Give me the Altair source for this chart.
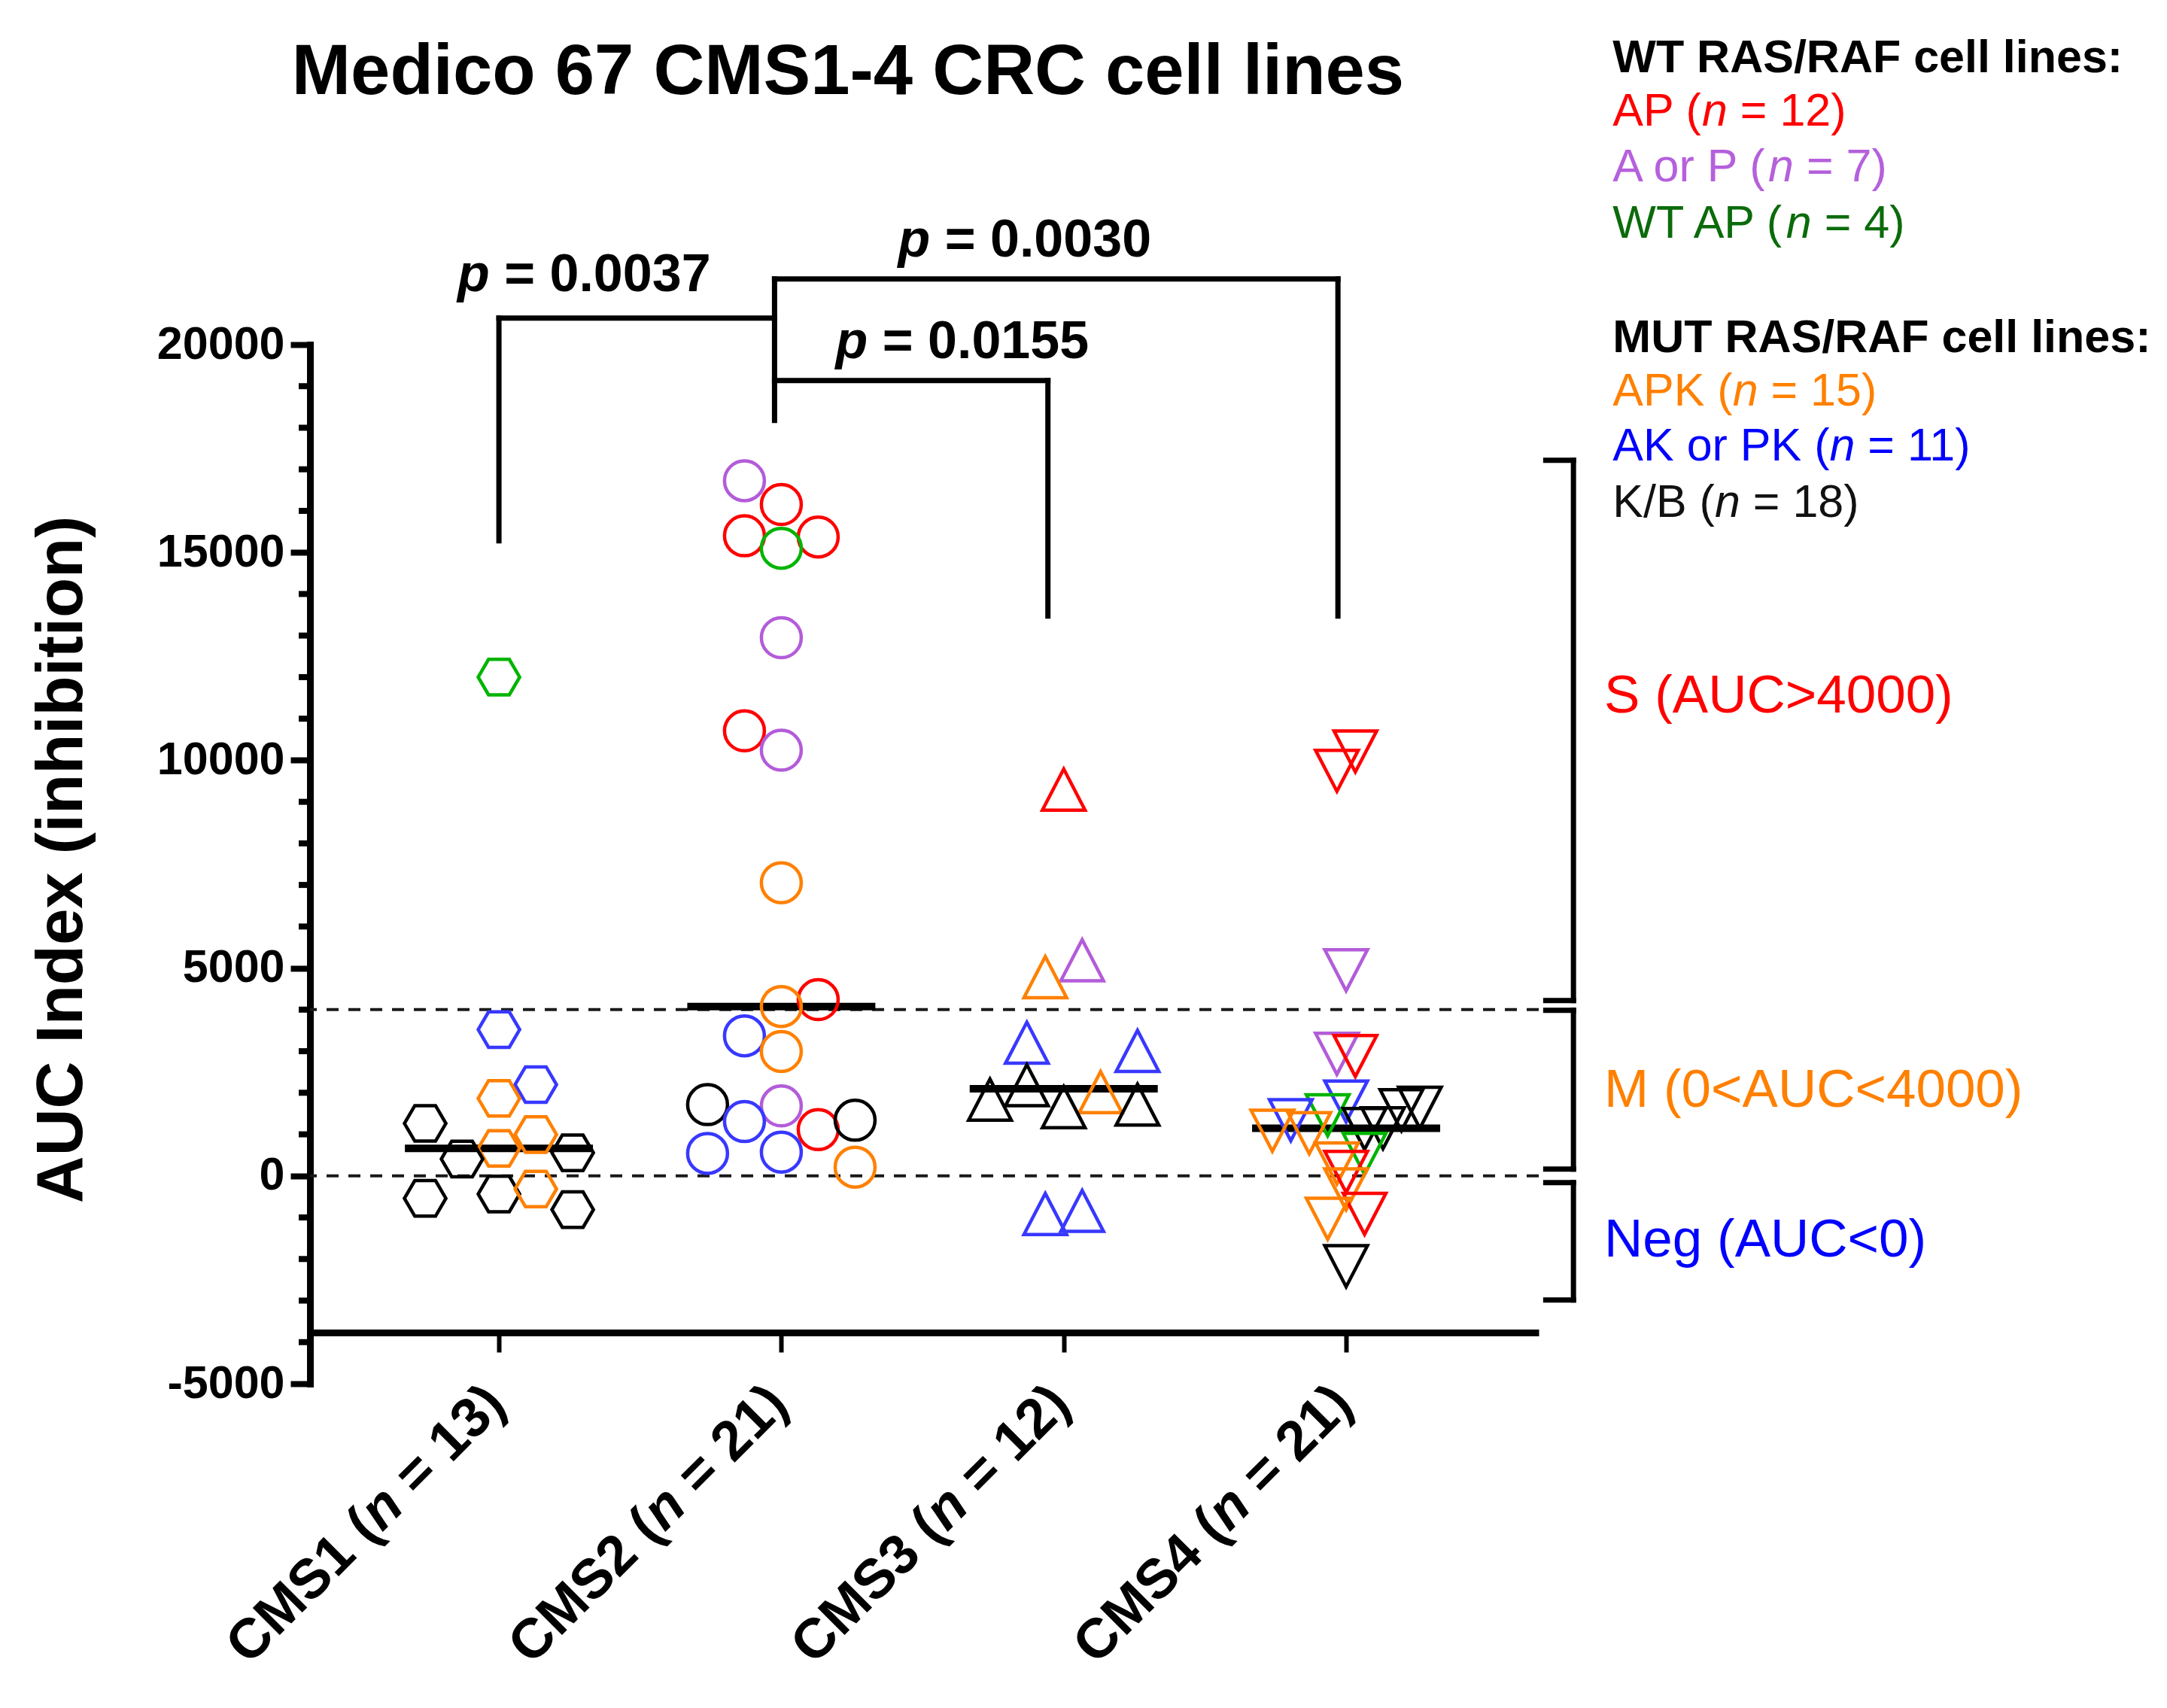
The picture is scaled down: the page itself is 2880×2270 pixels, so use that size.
import altair as alt
import pandas as pd

# ---------------- data ----------------
cms_names = ["CMS1", "CMS2", "CMS3", "CMS4"]
cms_counts = [13, 21, 12, 21]

group_names = ["AP", "A or P", "WT AP", "APK", "AK or PK", "K/B"]
group_counts = [12, 7, 4, 15, 11, 18]
marker_colors = ["#FF0000", "#B35CD9", "#00B400", "#FF8000", "#3838FF", "#000000"]
legend_colors = ["#FF0000", "#B560DC", "#0B6B0B", "#FF8000", "#0000FF", "#111111"]

cms1_values = [12000, 3520, 2196, 1865, 1263, 993, 662, 556, 406, -541, -436, -316, -812]
cms1_groups = ["WT AP", "AK or PK", "AK or PK", "APK", "K/B", "APK", "APK", "K/B", "K/B",
               "K/B", "K/B", "APK", "K/B"]
cms1_cols = [0, 0, 1, 0, -2, 1, 0, 2, -1, -2, 0, 1, 2]

cms2_values = [16724, 16153, 15401, 15371, 15100, 12949, 10708, 10242, 7054, 4241, 4076,
               3369, 2993, 1715, 1684, 1308, 1113, 1339, 541, 572, 211]
cms2_groups = ["A or P", "AP", "AP", "AP", "WT AP", "A or P", "AP", "A or P", "APK", "AP", "APK",
               "AK or PK", "APK", "K/B", "A or P", "AK or PK", "AP", "K/B", "AK or PK", "AK or PK", "APK"]
cms2_cols = [-1, 0, -1, 1, 0, 0, -1, 0, 0, 1, 0, -1, 0, -2, 0, -1, 1, 2, -2, 0, 2]

cms3_values = [9295, 5189, 4783, 3204, 3008, 2181, 2015, 1835, 1715, 1654, -842, -917]
cms3_groups = ["AP", "A or P", "APK", "AK or PK", "AK or PK", "K/B", "APK", "K/B", "K/B", "K/B",
               "AK or PK", "AK or PK"]
cms3_cols = [0, 0.5, -0.5, -1, 2, -1, 1, -2, 2, 0, 0.5, -0.5]

cms4_values = [10212, 9746, 4948, 2937, 2883, 1790, 1640, 1580, 1459, 1339, 1147, 1129, 1087,
               1027, 528, 300, 96, -324, -913, -1033, -2174]
cms4_groups = ["AP", "AP", "A or P", "A or P", "AP", "AK or PK", "K/B", "K/B", "WT AP", "AK or PK",
               "K/B", "K/B", "APK", "APK", "WT AP", "APK", "AP", "APK", "AP", "APK", "K/B"]
cms4_cols = [0.25, -0.25, 0, -0.25, 0.25, 0, 2, 1.5, -0.5, -1.5, 1, 0.5, -2, -1, 0.5, -0.25, 0, 0,
             0.5, -0.5, 0]

thresholds = [4000, 0]
y_major_ticks = [-5000, 0, 5000, 10000, 15000, 20000]
y_minor_ticks = [v for v in range(-4000, 20000, 1000) if v % 5000 != 0]

p_values = ["0.0037", "0.0030", "0.0155"]
# bracket segments (data units)
br_x = [1.0, 1.0, 1.976, 3.971, 1.976, 2.944, 1.976]
br_x2 = [1.976, 1.0, 3.971, 3.971, 2.944, 2.944, 1.976]
br_y = [20637, 20637, 21578, 21578, 19134, 19134, 21578]
br_y2 = [20637, 15279, 21578, 13468, 19134, 13468, 18175]
p_x = [0.853, 2.413, 2.192]
p_y = [21289, 22122, 19677]

class_labels = ["S (AUC>4000)", "M (0<AUC<4000)", "Neg (AUC<0)"]
class_colors = ["#FF0000", "#FF8000", "#0000FF"]
class_label_y = [11151, 1665, -1937]
class_top = [17216, 3983, -163]
class_bottom = [4218, 163, -2987]

header_text = ["WT RAS/RAF cell lines:", "MUT RAS/RAF cell lines:"]
header_y = [26557, 19823]
legend_y = [25272, 23932, 22574, 18537, 17216, 15858]

title_text = "Medico 67 CMS1-4 CRC cell lines"

# ---------------- layout helpers ----------------
FONT = "Liberation Sans"
W, H = 1633, 1381
XDOM = [0.331, 4.682]
PX = W / (XDOM[1] - XDOM[0])      # pixels per x unit
COLW = 0.1306                     # column spacing of scattered points

REG = {' ': 278, '(': 333, ')': 333, '=': 584, 'A': 667, 'P': 667, 'K': 667, 'W': 944,
       'T': 611, 'o': 556, 'r': 333, 'B': 667, '/': 278}
BOLD = {' ': 278, '(': 333, ')': 333, '=': 584, '.': 278}


def tw(s, table, size):
    return sum(table.get(ch, 556) for ch in s) * size / 1000.0


xscale = alt.Scale(domain=XDOM, nice=False, zero=False)
yscale = alt.Scale(domain=[-5000, 20000], nice=False, zero=False)
xaxis = alt.Axis(values=[1, 2, 3, 4], labels=False, title=None, grid=False, offset=-68,
                 tickSize=26, tickWidth=6, tickColor="black", domainWidth=9,
                 domainColor="black")
yaxis = alt.Axis(values=y_major_ticks, labelExpr="'' + datum.value", grid=False,
                 labelFont=FONT, labelFontWeight="bold", labelFontSize=61, labelColor="black",
                 labelPadding=8, tickSize=26, tickWidth=8, tickColor="black",
                 domainWidth=9, domainColor="black", domainCap="square",
                 title="AUC Index (inhibition)", titleFont=FONT, titleFontSize=87,
                 titleFontWeight="bold", titleColor="black", titleAngle=270,
                 titleX=-304, titleY=684, titleAlign="center", titleBaseline="alphabetic")


def X(f):
    return alt.X(f, type="quantitative", scale=xscale, axis=xaxis)


def Y(f):
    return alt.Y(f, type="quantitative", scale=yscale, axis=yaxis)


# ---------------- tables ----------------
rows = []
for i, (vals, grps, cols) in enumerate([(cms1_values, cms1_groups, cms1_cols),
                                         (cms2_values, cms2_groups, cms2_cols),
                                         (cms3_values, cms3_groups, cms3_cols),
                                         (cms4_values, cms4_groups, cms4_cols)]):
    for v, g, c in zip(vals, grps, cols):
        rows.append({"cms": i + 1, "cmsname": cms_names[i], "value": v, "group": g, "col": c})
df = pd.DataFrame(rows)

hexagon = "M-1.04,0L-0.52,-0.89L0.52,-0.89L1.04,0L0.52,0.89L-0.52,0.89Z"
tri_up = "M0,-1.03L1.07,1.03L-1.07,1.03Z"
tri_down = "M-1.07,-1.03L1.07,-1.03L0,1.03Z"

points = alt.Chart(df).transform_calculate(
    xpos=f"datum.cms + datum.col * {COLW}"
).mark_point(filled=False, size=2809, strokeWidth=4.5, opacity=1, strokeJoin="miter").encode(
    x=X("xpos"), y=Y("value"),
    color=alt.Color("group:N", scale=alt.Scale(domain=group_names, range=marker_colors),
                    legend=None),
    shape=alt.Shape("cmsname:N", scale=alt.Scale(domain=cms_names,
                                                 range=[hexagon, "circle", tri_up, tri_down]),
                    legend=None),
)

medians = alt.Chart(df).transform_aggregate(
    med="median(value)", groupby=["cms"]
).transform_calculate(
    x1="datum.cms - 0.333", x2="datum.cms + 0.333"
).mark_rule(strokeWidth=10, color="black").encode(x=X("x1"), x2="x2:Q", y=Y("med"))

thr = alt.Chart(pd.DataFrame({"t": thresholds})).mark_rule(
    strokeWidth=4, strokeDash=[16, 13], color="#1a1a1a"
).encode(y=Y("t"))

minor = alt.Chart(pd.DataFrame({"m": y_minor_ticks})).mark_rule(
    strokeWidth=8, color="black"
).encode(y=Y("m"), x=alt.value(-15), x2=alt.value(0))

br = alt.Chart(pd.DataFrame({"x": br_x, "x2": br_x2, "y": br_y, "y2": br_y2})).mark_rule(
    strokeWidth=7, color="black", strokeCap="square"
).encode(x=X("x"), x2="x2:Q", y=Y("y"), y2="y2:Q")

p_sz = 70
p_df_it = pd.DataFrame({"x": p_x, "y": p_y, "t": ["p"] * 3})
p_df = pd.DataFrame({"x": [x + (tw("p", {'p': 611}, p_sz) + tw(" ", BOLD, p_sz)) / PX for x in p_x],
                     "y": p_y, "t": ["= " + p for p in p_values]})
p_it = alt.Chart(p_df_it).mark_text(font=FONT, fontSize=p_sz, fontWeight="bold",
                                    fontStyle="italic", align="left", baseline="alphabetic",
                                    color="black").encode(x=X("x"), y=Y("y"), text="t:N")
p_txt = alt.Chart(p_df).mark_text(font=FONT, fontSize=p_sz, fontWeight="bold", align="left",
                                  baseline="alphabetic", color="black").encode(
    x=X("x"), y=Y("y"), text="t:N")

# right-hand class brackets
rx, rx_tick = 4.805, 4.707
seg_x, seg_x2, seg_y, seg_y2 = [], [], [], []
for top, bot in zip(class_top, class_bottom):
    seg_x += [rx, rx_tick, rx_tick]
    seg_x2 += [rx, rx, rx]
    seg_y += [top, top, bot]
    seg_y2 += [bot, top, bot]
rb = alt.Chart(pd.DataFrame({"x": seg_x, "x2": seg_x2, "y": seg_y, "y2": seg_y2})).mark_rule(
    strokeWidth=7, color="black", strokeCap="square"
).encode(x=X("x"), x2="x2:Q", y=Y("y"), y2="y2:Q")

cls = alt.Chart(pd.DataFrame({"x": [4.914] * 3, "y": class_label_y, "t": class_labels,
                              "c": class_colors})).mark_text(
    font=FONT, fontSize=71, align="left", baseline="alphabetic"
).encode(x=X("x"), y=Y("y"), text="t:N", color=alt.Color("c:N", scale=None))

# x category labels (rotated, italic n)
c_sz = 74
lab_x = [i + 1 + 0.032 for i in range(4)]
lab_y = [-5558] * 4
suffixes = [f"= {n})" for n in cms_counts]
w_suf = tw(suffixes[0], BOLD, c_sz)
w_sp = tw(" ", BOLD, c_sz)
w_n = 611 * c_sz / 1000
cms_df = pd.DataFrame({"x": lab_x, "y": lab_y,
                       "pre": [f"{c} (" for c in cms_names], "suf": suffixes,
                       "n": ["n"] * 4})
lab_common = dict(font=FONT, fontSize=c_sz, fontWeight="bold", align="right",
                  baseline="alphabetic", angle=315, color="black")
lab_suf = alt.Chart(cms_df).mark_text(**lab_common).encode(x=X("x"), y=Y("y"), text="suf:N")
lab_n = alt.Chart(cms_df).mark_text(fontStyle="italic", dx=-(w_suf + w_sp), **lab_common).encode(
    x=X("x"), y=Y("y"), text="n:N")
lab_pre = alt.Chart(cms_df).mark_text(dx=-(w_suf + w_sp + w_n), **lab_common).encode(
    x=X("x"), y=Y("y"), text="pre:N")

# legend text
l_sz = 61
leg_x0 = 4.944
norm_rows, it_rows = [], []
for name, n, col, y in zip(group_names, group_counts, legend_colors, legend_y):
    pre = f"{name} ("
    x_mid = leg_x0 + tw(pre, REG, l_sz) / PX
    x_suf = x_mid + (556 * l_sz / 1000 + tw(" ", REG, l_sz)) / PX
    norm_rows.append({"x": leg_x0, "y": y, "t": pre, "c": col})
    norm_rows.append({"x": x_suf, "y": y, "t": f"= {n})", "c": col})
    it_rows.append({"x": x_mid, "y": y, "t": "n", "c": col})
leg_norm = alt.Chart(pd.DataFrame(norm_rows)).mark_text(
    font=FONT, fontSize=l_sz, align="left", baseline="alphabetic"
).encode(x=X("x"), y=Y("y"), text="t:N", color=alt.Color("c:N", scale=None))
leg_it = alt.Chart(pd.DataFrame(it_rows)).mark_text(
    font=FONT, fontSize=l_sz, fontStyle="italic", align="left", baseline="alphabetic"
).encode(x=X("x"), y=Y("y"), text="t:N", color=alt.Color("c:N", scale=None))
leg_head = alt.Chart(pd.DataFrame({"x": [leg_x0] * 2, "y": header_y, "t": header_text})).mark_text(
    font=FONT, fontSize=l_sz, fontWeight="bold", align="left", baseline="alphabetic", color="black"
).encode(x=X("x"), y=Y("y"), text="t:N")

title = alt.Chart(pd.DataFrame({"x": [2.236], "y": [26032], "t": [title_text]})).mark_text(
    font=FONT, fontSize=94, fontWeight="bold", align="center", baseline="alphabetic",
    color="black"
).encode(x=X("x"), y=Y("y"), text="t:N")

chart = alt.layer(
    thr, minor, medians, points, br, p_it, p_txt, rb, cls,
    lab_pre, lab_n, lab_suf, leg_norm, leg_it, leg_head, title
).properties(
    width=W, height=H,
    autosize=alt.AutoSizeParams(type="none"),
    padding={"left": 404, "top": 450, "right": 825, "bottom": 410},
    background="white",
).configure_view(stroke=None)

chart.save("out.html", embed_options={"renderer": "svg", "actions": False})
